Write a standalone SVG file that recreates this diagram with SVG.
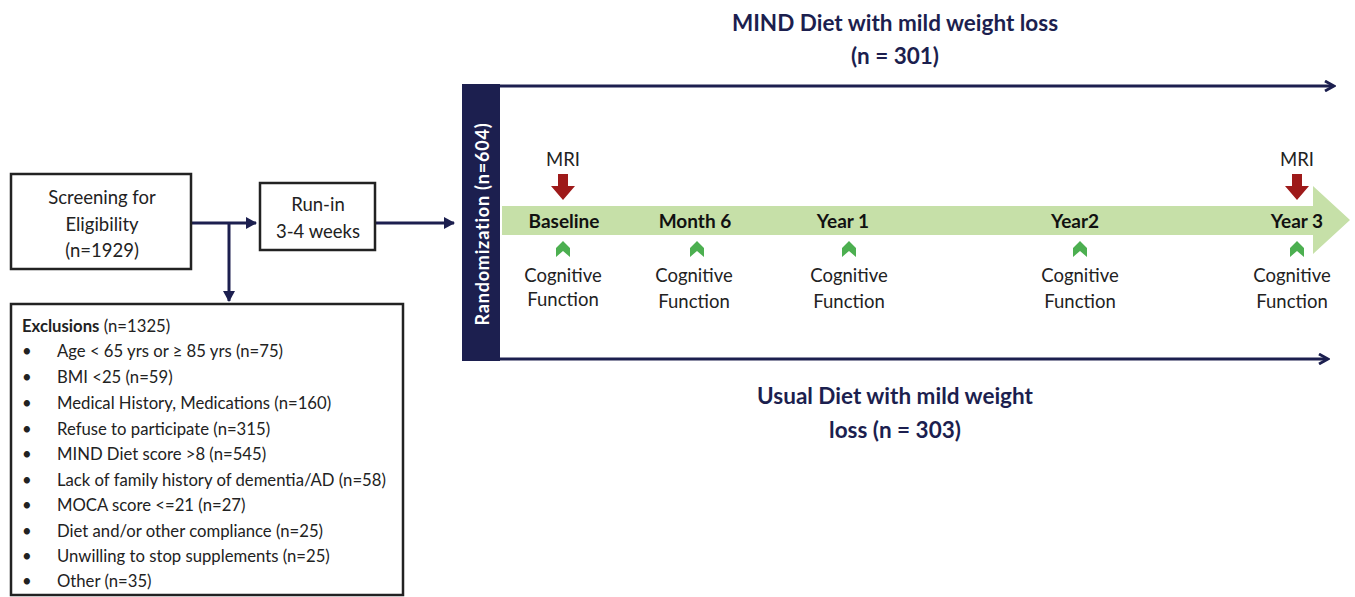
<svg xmlns="http://www.w3.org/2000/svg" width="1355" height="597" viewBox="0 0 1355 597">
<defs>
<marker id="ah" markerWidth="12" markerHeight="12" refX="9" refY="6" orient="auto" markerUnits="userSpaceOnUse"><path d="M1,1 L10,6 L1,11" fill="none" stroke="#1c1f4f" stroke-width="2.8"/></marker>
<marker id="ahs" markerWidth="12" markerHeight="12" refX="10" refY="6" orient="auto" markerUnits="userSpaceOnUse"><path d="M0,0 L11,6 L0,12 Z" fill="#1c1f4f"/></marker>
</defs>
<style>
text{font-family:Lato,"Open Sans","Liberation Sans",sans-serif;fill:#222}
.box{fill:#fff;stroke:#222;stroke-width:2.5}
.c{text-anchor:middle;font-size:18.5px}
.ex{font-size:16.7px}
.tl{font-size:19px;font-weight:bold;text-anchor:middle;fill:#111}
.ttl{font-size:22.5px;font-weight:bold;text-anchor:middle;fill:#1c1f4f}
.con{stroke:#1c1f4f;stroke-width:3;fill:none}
.mri{fill:#9e1a1a}
.chev{fill:#4caf50}
</style>
<rect width="1355" height="597" fill="#fff"/>
<g id="connectors">
<path class="con" d="M191,223 H256" marker-end="url(#ahs)"/>
<path class="con" d="M229,223 V301" marker-end="url(#ahs)"/>
<path class="con" d="M375,223 H454" marker-end="url(#ahs)"/>
<path class="con" d="M500,86 H1333" marker-end="url(#ah)"/>
<path class="con" d="M500,359 H1327" marker-end="url(#ah)"/>
</g>
<g id="screening">
<rect class="box" x="11" y="174" width="180" height="95"/>
<text class="c" x="102" y="204">Screening for</text>
<text class="c" x="102" y="231">Eligibility</text>
<text class="c" x="102" y="257">(n=1929)</text>
</g>
<g id="runin">
<rect class="box" x="260" y="183" width="115" height="67"/>
<text class="c" x="318" y="211">Run-in</text>
<text class="c" x="318" y="238">3-4 weeks</text>
</g>
<g id="exclusions">
<rect class="box" x="11" y="304" width="392" height="291"/>
<text class="ex" x="22" y="332"><tspan font-weight="bold">Exclusions</tspan> (n=1325)</text>
<text class="ex" x="22" y="357">•</text><text class="ex" x="57" y="357">Age &lt; 65 yrs or ≥ 85 yrs (n=75)</text>
<text class="ex" x="22" y="383">•</text><text class="ex" x="57" y="383">BMI &lt;25 (n=59)</text>
<text class="ex" x="22" y="409">•</text><text class="ex" x="57" y="409">Medical History, Medications  (n=160)</text>
<text class="ex" x="22" y="435">•</text><text class="ex" x="57" y="435">Refuse to participate (n=315)</text>
<text class="ex" x="22" y="460">•</text><text class="ex" x="57" y="460">MIND Diet score &gt;8 (n=545)</text>
<text class="ex" x="22" y="486">•</text><text class="ex" x="57" y="486">Lack of family history of dementia/AD (n=58)</text>
<text class="ex" x="22" y="511">•</text><text class="ex" x="57" y="511">MOCA score &lt;=21 (n=27)</text>
<text class="ex" x="22" y="537">•</text><text class="ex" x="57" y="537">Diet and/or other compliance (n=25)</text>
<text class="ex" x="22" y="562">•</text><text class="ex" x="57" y="562">Unwilling  to stop supplements  (n=25)</text>
<text class="ex" x="22" y="587">•</text><text class="ex" x="57" y="587">Other (n=35)</text>
</g>
<g id="randomization">
<rect x="462" y="84" width="38" height="277" fill="#1c1f4f"/>
<text transform="translate(489,224) rotate(-90)" text-anchor="middle" font-size="18" font-weight="bold" style="fill:#fff;letter-spacing:0.8px">Randomization (n=604)</text>
</g>
<g id="timeline">
<path d="M502,206 H1313 V186 L1350,220 L1313,254 V235 H502 Z" fill="#c6e0a8"/>
<text class="tl" x="564" y="228">Baseline</text>
<text class="tl" x="695" y="228">Month 6</text>
<text class="tl" x="843" y="228">Year 1</text>
<text class="tl" x="1075" y="228">Year2</text>
<text class="tl" x="1297" y="228">Year 3</text>
</g>
<g id="mri">
<text class="c" x="563" y="166">MRI</text>
<path class="mri" d="M558,174 H568 V186 H575 L563,200 L551,186 H558 Z"/>
<text class="c" x="1297" y="166">MRI</text>
<path class="mri" d="M1292,174 H1302 V186 H1309 L1297,200 L1285,186 H1292 Z"/>
</g>
<g id="cognitive">
<path class="chev" d="M563,241 L570,248 V257 L563,251 L556,257 V248 Z"/>
<path class="chev" d="M697,241 L704,248 V257 L697,251 L690,257 V248 Z"/>
<path class="chev" d="M849,241 L856,248 V257 L849,251 L842,257 V248 Z"/>
<path class="chev" d="M1080,241 L1087,248 V257 L1080,251 L1073,257 V248 Z"/>
<path class="chev" d="M1297,241 L1304,248 V257 L1297,251 L1290,257 V248 Z"/>
<text class="c" x="563" y="282">Cognitive</text><text class="c" x="563" y="306">Function</text>
<text class="c" x="694" y="282">Cognitive</text><text class="c" x="694" y="308">Function</text>
<text class="c" x="849" y="282">Cognitive</text><text class="c" x="849" y="308">Function</text>
<text class="c" x="1080" y="282">Cognitive</text><text class="c" x="1080" y="308">Function</text>
<text class="c" x="1292" y="282">Cognitive</text><text class="c" x="1292" y="308">Function</text>
</g>
<g id="arm-mind">
<text class="ttl" x="895" y="31">MIND Diet with mild weight loss</text>
<text class="ttl" x="895" y="64">(n = 301)</text>
</g>
<g id="arm-usual">
<text class="ttl" x="895" y="404">Usual Diet with mild weight</text>
<text class="ttl" x="895" y="438">loss (n = 303)</text>
</g>
</svg>
